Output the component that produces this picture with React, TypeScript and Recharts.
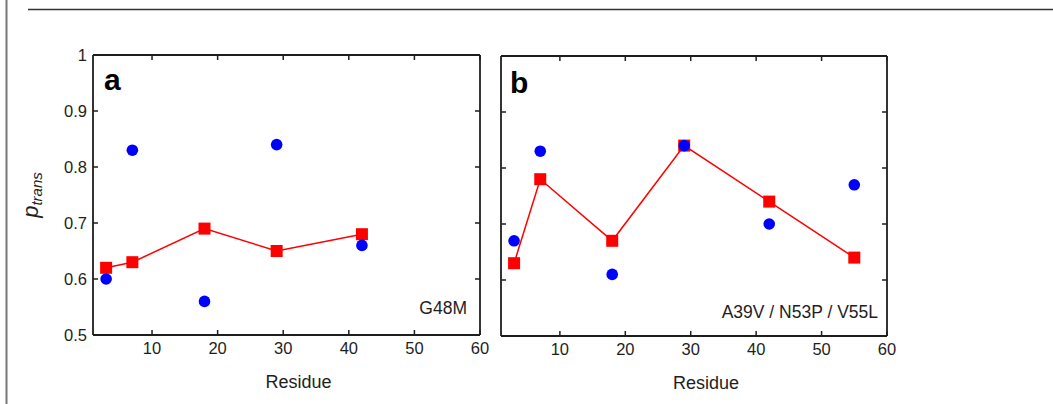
import {Label, Scatter, ScatterChart, XAxis, YAxis} from 'recharts';

// residues measured in each panel
const residuesA = [3, 7, 18, 29, 42];
const residuesB = [3, 7, 18, 29, 42, 55];

// blue circles / red squares (p_trans)
const blueA = [0.6, 0.83, 0.56, 0.84, 0.66];
const redA = [0.62, 0.63, 0.69, 0.65, 0.68];
const blueB = [0.67, 0.83, 0.61, 0.84, 0.7, 0.77];
const redB = [0.63, 0.78, 0.67, 0.84, 0.74, 0.64];

const xTicks = [10, 20, 30, 40, 50, 60];
const yTicks = [0.5, 0.6, 0.7, 0.8, 0.9, 1];

const AXIS = '#1e1e1e';
const FONT = '"Liberation Sans", Arial, sans-serif';
const TICK_LEN = 5;
const X_GAP = 7;
const Y_GAP = 6;
const TICK_FONT = 16.5;

const toRows = (xs: number[], ys: number[]) => xs.map((res, i) => ({res, p: ys[i]}));

const Square = (props: any) => {
  const {cx, cy} = props;
  return <rect x={cx - 6} y={cy - 6} width={12} height={12} fill="#ff0000" />;
};
const Dot = (props: any) => {
  const {cx, cy} = props;
  return <circle cx={cx} cy={cy} r={5.8} fill="#0000ff" />;
};

// inward tick marks, drawn from the tick position the axis hands over
const BottomTick = ({x, y, payload}: any) => (
  <g>
    <line x1={x} x2={x} y1={y - X_GAP} y2={y - X_GAP - TICK_LEN} stroke={AXIS} strokeWidth={1.5} />
    <text x={x} y={y} dy="0.72em" textAnchor="middle" fontSize={TICK_FONT} fontFamily={FONT} fill={AXIS}>
      {payload.value}
    </text>
  </g>
);
const TopTick = ({x, y}: any) => (
  <line x1={x} x2={x} y1={y} y2={y + TICK_LEN} stroke={AXIS} strokeWidth={1.5} />
);
const makeLeftTick = (labels: boolean) => ({x, y, payload}: any) => (
  <g>
    <line x1={x + Y_GAP} x2={x + Y_GAP + TICK_LEN} y1={y} y2={y} stroke={AXIS} strokeWidth={1.5} />
    {labels && (
      <text x={x} y={y} dy="0.36em" textAnchor="end" fontSize={TICK_FONT} fontFamily={FONT} fill={AXIS}>
        {String(payload.value)}
      </text>
    )}
  </g>
);
const RightTick = ({x, y}: any) => (
  <line x1={x} x2={x - TICK_LEN} y1={y} y2={y} stroke={AXIS} strokeWidth={1.5} />
);

type PanelProps = {
  residues: number[];
  blue: number[];
  red: number[];
  width: number;
  margin: {top: number; left: number; right: number; bottom: number};
  yLabels: boolean;
  plotBottom: number;
};

function Panel({residues, blue, red, width, margin, yLabels, plotBottom}: PanelProps) {
  return (
    <ScatterChart width={width} height={404} margin={margin}>
      <XAxis
        type="number"
        dataKey="res"
        domain={[1, 60]}
        ticks={xTicks}
        allowDataOverflow
        height={404 - plotBottom - margin.bottom}
        stroke={AXIS}
        strokeWidth={1.8}
        tickLine={false}
        tickSize={0}
        tickMargin={X_GAP}
        tick={BottomTick}
      >
        <Label
          content={({viewBox}: any) => (
            <text
              x={viewBox.x + viewBox.width / 2 + 12}
              y={viewBox.y + 53}
              textAnchor="middle"
              fontSize={18}
              fontFamily={FONT}
              fill={AXIS}
            >
              Residue
            </text>
          )}
        />
      </XAxis>
      <XAxis
        xAxisId="top"
        orientation="top"
        type="number"
        dataKey="res"
        domain={[1, 60]}
        ticks={xTicks}
        allowDataOverflow
        height={1}
        stroke={AXIS}
        strokeWidth={1.8}
        tickLine={false}
        tickSize={0}
        tickMargin={0}
        tick={TopTick}
      />
      <YAxis
        type="number"
        dataKey="p"
        domain={[0.5, 1]}
        ticks={yTicks}
        allowDataOverflow
        width={yLabels ? 73 : 1}
        stroke={AXIS}
        strokeWidth={1.8}
        tickLine={false}
        tickSize={0}
        tickMargin={Y_GAP}
        tick={makeLeftTick(yLabels)}
      >
        {yLabels && (
          <Label
            content={({viewBox}: any) => {
              const x = 38;
              const y = viewBox.y + viewBox.height / 2;
              return (
                <text
                  x={x}
                  y={y}
                  transform={`rotate(-90, ${x}, ${y})`}
                  textAnchor="middle"
                  fontSize={22}
                  fontStyle="italic"
                  fontFamily={FONT}
                  fill={AXIS}
                >
                  p
                  <tspan fontSize={15} dy={4}>
                    trans
                  </tspan>
                </text>
              );
            }}
          />
        )}
      </YAxis>
      <YAxis
        yAxisId="right"
        orientation="right"
        type="number"
        dataKey="p"
        domain={[0.5, 1]}
        ticks={yTicks}
        allowDataOverflow
        width={1}
        stroke={AXIS}
        strokeWidth={1.8}
        tickLine={false}
        tickSize={0}
        tickMargin={0}
        tick={RightTick}
      />
      <Scatter
        data={toRows(residues, red)}
        dataKey="p"
        xAxisId="top"
        yAxisId="right"
        line={{stroke: '#ff0000', strokeWidth: 1.5}}
        shape={Square}
        isAnimationActive={false}
      />
      <Scatter data={toRows(residues, blue)} dataKey="p" shape={Dot} isAnimationActive={false} />
    </ScatterChart>
  );
}

export default function App() {
  return (
    <div style={{position: 'absolute', left: 0, top: 0, width: 1053, height: 404, background: '#fff'}}>
      <div style={{position: 'absolute', left: 0, top: 0}}>
        <Panel
          residues={residuesA}
          blue={blueA}
          red={redA}
          width={500}
          margin={{top: 54, left: 20, right: 19, bottom: 0}}
          plotBottom={335}
          yLabels
        />
      </div>
      <div style={{position: 'absolute', left: 490, top: 0}}>
        <Panel
          residues={residuesB}
          blue={blueB}
          red={redB}
          width={420}
          margin={{top: 55, left: 10, right: 22, bottom: 0}}
          plotBottom={336}
          yLabels={false}
        />
      </div>
      <svg
        width={1053}
        height={404}
        style={{position: 'absolute', left: 0, top: 0, pointerEvents: 'none'}}
        fontFamily={FONT}
      >
        <line x1={6.5} y1={0} x2={6.5} y2={404} stroke="#777" strokeWidth={2} />
        <line x1={28} y1={9.5} x2={1053} y2={9.5} stroke="#333" strokeWidth={1.5} />
        <text x={104} y={90} fontSize={30} fontWeight="bold" fill="#000">
          a
        </text>
        <text x={510} y={93} fontSize={30} fontWeight="bold" fill="#000">
          b
        </text>
        <text x={467} y={314} fontSize={17.5} textAnchor="end" fill={AXIS}>
          G48M
        </text>
        <text x={878} y={318} fontSize={17.5} textAnchor="end" fill={AXIS}>
          A39V / N53P / V55L
        </text>
      </svg>
    </div>
  );
}
